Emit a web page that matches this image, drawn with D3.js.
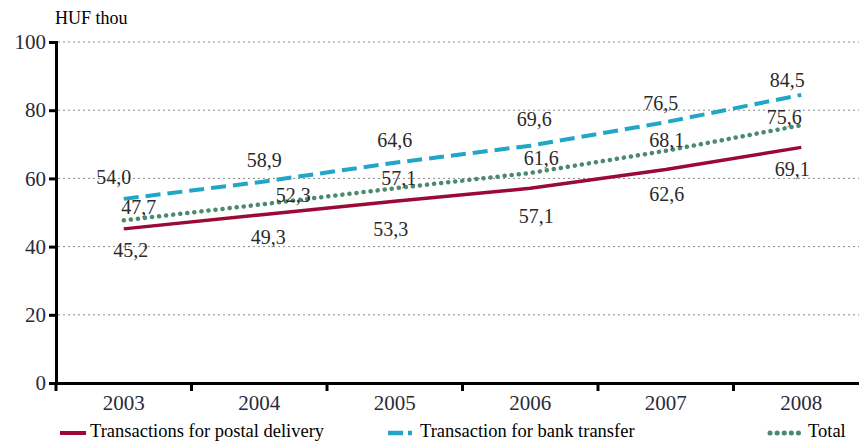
<!DOCTYPE html>
<html><head><meta charset="utf-8">
<script src="https://cdn.jsdelivr.net/npm/d3@7"></script>
<style>body{margin:0;background:#fff}svg{display:block}text{font-family:"Liberation Serif","Times New Roman",serif}</style>
</head><body><svg id="c" width="859" height="442"></svg>
<script>
const years = ["2003","2004","2005","2006","2007","2008"];
const postal = [45.2, 49.3, 53.3, 57.1, 62.6, 69.1];
const bank = [54.0, 58.9, 64.6, 69.6, 76.5, 84.5];
const total = [47.7, 52.3, 57.1, 61.6, 68.1, 75.6];
const yTicks = [0, 20, 40, 60, 80, 100];
const seriesNames = ["Transactions for postal delivery", "Transaction for bank transfer", "Total"];
const unitLabel = "HUF thou";

// label offsets (layout)
const offPostal = [[7,21],[9,22],[-4,28],[6,28],[1,24],[-9,22]];
const offBank = [[-10,-22],[5,-22],[0,-23],[4,-27],[-5,-19],[-14,-15]];
const offTotal = [[15,-13],[34,-10],[4,-10],[11,-15],[1,-11],[-17,-8]];

const svg = d3.select("#c");
const x = d3.scaleBand().domain(years).range([56, 869]).padding(0);
const y = d3.scaleLinear().domain([0, 100]).range([383, 42]);
const cx = d => x(d) + x.bandwidth()/2;

// grid
svg.append("g").selectAll("line").data(yTicks.filter(t=>t>0)).join("line")
  .attr("x1", 58).attr("x2", 859).attr("y1", d=>y(d)).attr("y2", d=>y(d))
  .attr("stroke", "#888").attr("stroke-width", 1).attr("stroke-dasharray", "2,3");

// axes
const yAxis = d3.axisLeft(y).tickValues(yTicks).tickSize(7).tickFormat(d3.format("d"));
const gy = svg.append("g").attr("transform", "translate(56,0)").call(yAxis);
gy.select(".domain").attr("stroke", "#000").attr("stroke-width", 3);
gy.selectAll(".tick line").attr("stroke", "#000").attr("stroke-width", 3);
gy.selectAll(".tick text").attr("font-size", 21).attr("fill", "#2a2a3a").attr("x", -10)
  .attr("font-family", "Liberation Serif");

const xAxis = d3.axisBottom(x).tickSize(0);
const gx = svg.append("g").attr("transform", "translate(0,383)").call(xAxis);
gx.select(".domain").attr("stroke", "#000").attr("stroke-width", 3);
gx.selectAll(".tick text").attr("font-size", 21).attr("fill", "#2a2a3a").attr("y", 12)
  .attr("font-family", "Liberation Serif");
// band boundary ticks
const edges = years.map(d => x(d)).concat([x(years[years.length-1]) + x.bandwidth()]).filter(v => v < 859);
svg.append("g").selectAll("line").data(edges).join("line")
  .attr("x1", d=>d).attr("x2", d=>d).attr("y1", 383).attr("y2", 391)
  .attr("stroke", "#000").attr("stroke-width", 3);

svg.append("text").attr("x", 55).attr("y", 24).attr("font-size", 18).attr("fill", "#000").text(unitLabel);

const series = [
  {vals: postal, color: "#9a0a35", dash: null, width: 3.5, cap: "butt", off: offPostal},
  {vals: bank, color: "#21a6c8", dash: "15,7", width: 4, cap: "butt", off: offBank},
  {vals: total, color: "#4a8a6e", dash: "0.1,7", width: 4.5, cap: "round", off: offTotal}
];
const line = d3.line().x((d,i)=>cx(years[i])).y(d=>y(d));
series.forEach(s => {
  svg.append("path").datum(s.vals).attr("d", line).attr("fill", "none")
    .attr("stroke", s.color).attr("stroke-width", s.width).attr("stroke-linecap", s.cap)
    .attr("stroke-dasharray", s.dash);
});
const fmt = v => d3.format(".1f")(v).replace(".", ",");
series.forEach(s => {
  svg.append("g").selectAll("text").data(s.vals).join("text")
    .attr("x", (d,i)=>cx(years[i]) + s.off[i][0])
    .attr("y", (d,i)=>y(d) + s.off[i][1])
    .attr("dy", "0.35em").attr("text-anchor", "middle").attr("font-size", 20).attr("fill", "#2a2a2a")
    .text(fmt);
});

// legend
const leg = [
  {x1: 60, x2: 86, tx: 90},
  {x1: 388, x2: 412, tx: 420},
  {x1: 770, x2: 800, tx: 808}
];
leg.forEach((l, i) => {
  const s = series[i];
  svg.append("line").attr("x1", l.x1).attr("x2", l.x2).attr("y1", 433).attr("y2", 433)
    .attr("stroke", s.color).attr("stroke-width", s.width + 0.5).attr("stroke-linecap", s.cap)
    .attr("stroke-dasharray", i===1 ? "15,5" : s.dash);
  svg.append("text").attr("x", l.tx).attr("y", 437).attr("font-size", 18.5).attr("fill", "#000").text(seriesNames[i]);
});
</script></body></html>
